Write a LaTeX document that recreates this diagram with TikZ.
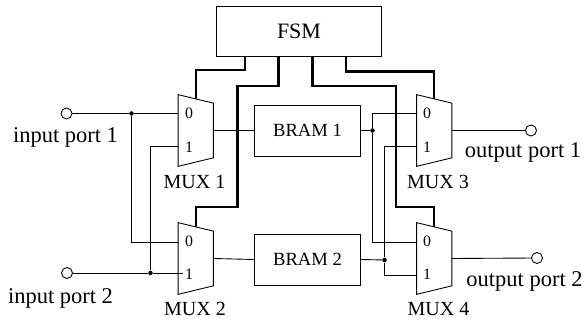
\documentclass[tikz,border=0pt]{standalone}
\usepackage{fontspec}
\setmainfont{Liberation Serif}
\tikzstyle{block} = [draw, rectangle, inner sep=0pt, line width=0.5pt]
\tikzstyle{muxbox} = [rectangle, minimum width=0.69cm, minimum height=1.42cm, inner sep=0pt]
\tikzstyle{port} = [draw, circle, minimum size=0.22cm, inner sep=0pt, line width=0.5pt]
\tikzstyle{joint} = [circle, fill=black, minimum size=0.09cm, inner sep=0pt]
\tikzstyle{wire} = [line width=0.5pt]
\tikzstyle{bus} = [line width=1.4pt]
\tikzstyle{portlabel} = [anchor=base, inner sep=0pt, font=\fontsize{12.8}{14}\selectfont]
\tikzstyle{muxlabel} = [anchor=base, inner sep=0pt, font=\fontsize{11.4}{13}\selectfont]
\tikzstyle{pinlabel} = [anchor=base, inner sep=0pt, font=\fontsize{9}{11}\selectfont]
\newcommand{\muxbody}[1]{\draw[wire] (#1.north west)--([yshift=-0.17cm]#1.north east)--([yshift=0.17cm]#1.south east)--(#1.south west)--cycle;
\coordinate (#1top) at ([yshift=-0.085cm]#1.north);}

\begin{document}
\begin{tikzpicture}
\useasboundingbox (0,0) rectangle (11.72,6.48);
%blocks
\draw (5.98,5.86) node (fsm) [block, minimum width=3.3cm, minimum height=1cm, font=\fontsize{12.5}{14}\selectfont] {FSM};
\draw (6.15,3.87) node (bram1) [block, minimum width=2.12cm, minimum height=1.02cm, font=\fontsize{10.6}{13}\selectfont] {BRAM 1};
\draw (6.15,1.29) node (bram2) [block, minimum width=2.12cm, minimum height=1.02cm, font=\fontsize{10.6}{13}\selectfont] {BRAM 2};
\draw (3.915,3.87) node (mux1) [muxbox] {};
\draw (3.915,1.31) node (mux2) [muxbox] {};
\draw (8.685,3.87) node (mux3) [muxbox] {};
\draw (8.685,1.31) node (mux4) [muxbox] {};
\muxbody{mux1}
\muxbody{mux2}
\muxbody{mux3}
\muxbody{mux4}
%ports and joints
\draw (1.33,4.21) node (in1) [port] {};
\draw (1.34,1.02) node (in2) [port] {};
\draw (10.62,3.87) node (out1) [port] {};
\draw (10.74,1.32) node (out2) [port] {};
\draw (2.63,4.21) node (j1) [joint] {};
\draw (3.01,1.02) node (j2) [joint] {};
\draw (7.45,3.87) node (j3) [joint] {};
\draw (7.69,1.28) node (j4) [joint] {};
%pin heights
\coordinate (top0) at (0,4.21);
\coordinate (top1) at (0,3.55);
\coordinate (bot0) at (0,1.64);
\coordinate (bot1) at (0,0.98);
\coordinate (stub) at (3.66,1.02);
%input side
\draw[wire] (in1)--(j1);
\draw[wire] (j1)--(j1 -| mux1.west);
\draw[wire] (j1) |- (bot0 -| mux2.west);
\draw[wire] (in2)--(j2);
\draw[wire] (j2)--(stub);
\draw[wire] (j2) |- (top1 -| mux1.west);
\draw[wire] (mux1.east)--(bram1.west);
\draw[wire] (mux2.east)--(bram2.west);
%output side
\draw[wire] (bram1.east)--(j3);
\draw[wire] (bram2.east)--(j4);
\draw[wire] (j3) |- (top0 -| mux3.west);
\draw[wire] (j3) |- (bot0 -| mux4.west);
\draw[wire] (j4) |- (top1 -| mux3.west);
\draw[wire] (j4) |- (bot1 -| mux4.west);
\draw[wire] (mux3.east)--(out1);
\draw[wire] (mux4.east)--(out2);
%control lines
\coordinate (fsma) at (4.9,5.36);
\coordinate (fsmb) at (5.57,5.36);
\coordinate (fsmc) at (6.25,5.36);
\coordinate (fsmd) at (6.92,5.36);
\draw[bus] (fsma)--(4.9,5.08) -| (mux1top);
\draw[bus] (fsmb)--(5.57,4.76)--(4.75,4.76)--(4.75,2.34) -| (mux2top);
\draw[bus] (fsmc)--(6.25,4.76)--(7.92,4.76)--(7.92,2.34) -| (mux4top);
\draw[bus] (fsmd)--(6.92,5.05) -| (mux3top);
%labels
\node (lin1) [portlabel] at (1.31,3.62) {input port 1};
\node (lin2) [portlabel] at (1.21,0.41) {input port 2};
\node (lout1) [portlabel] at (10.46,3.32) {output port 1};
\node (lout2) [portlabel] at (10.49,0.74) {output port 2};
\node (lmux1) [muxlabel] at (3.89,2.71) {MUX 1};
\node (lmux2) [muxlabel] at (3.9,0.16) {MUX 2};
\node (lmux3) [muxlabel] at (8.76,2.71) {MUX 3};
\node (lmux4) [muxlabel] at (8.77,0.16) {MUX 4};
\node (p10) [pinlabel] at (3.78,4.1) {0};
\node (p11) [pinlabel] at (3.78,3.43) {1};
\node (p20) [pinlabel] at (3.78,1.54) {0};
\node (p21) [pinlabel] at (3.78,0.88) {1};
\node (p30) [pinlabel] at (8.54,4.1) {0};
\node (p31) [pinlabel] at (8.54,3.43) {1};
\node (p40) [pinlabel] at (8.54,1.54) {0};
\node (p41) [pinlabel] at (8.54,0.88) {1};
\end{tikzpicture}
\end{document}
